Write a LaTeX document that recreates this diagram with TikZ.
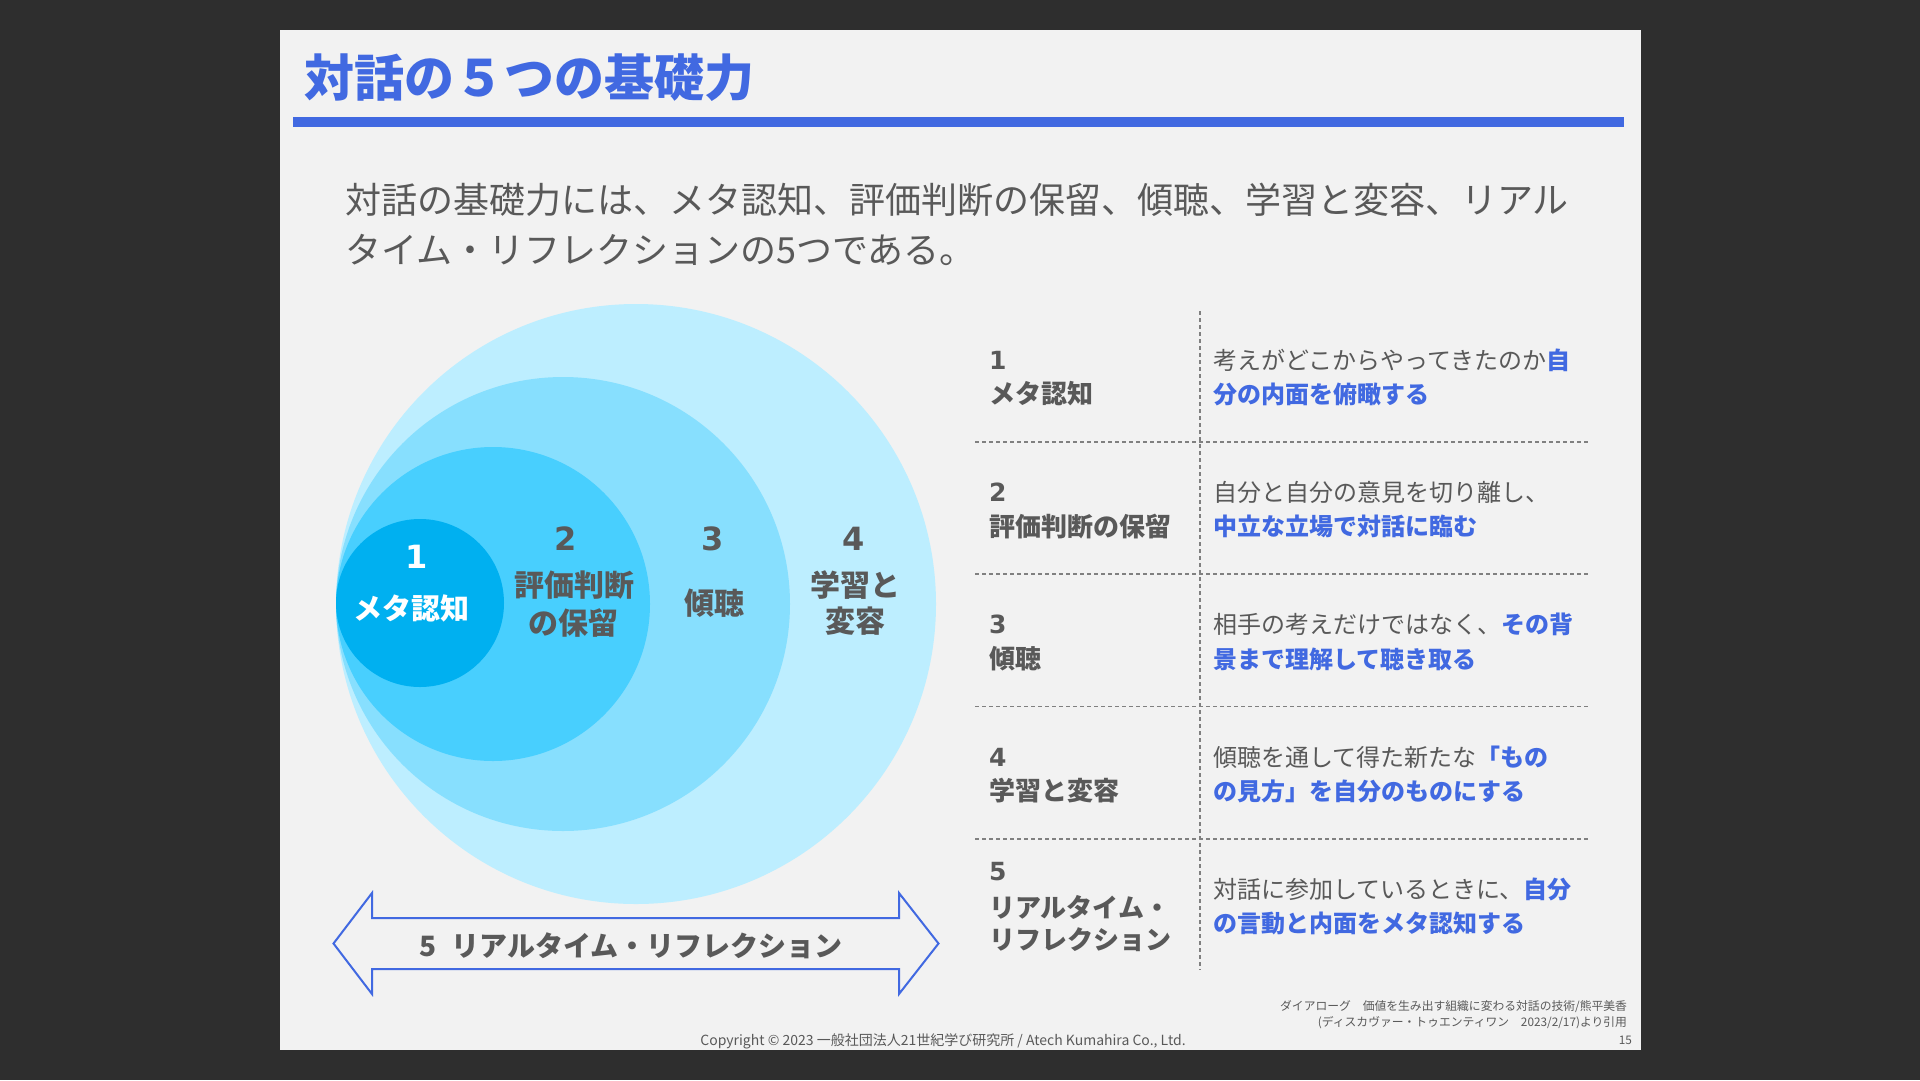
\documentclass[tikz,border=0pt]{standalone}
\usepackage{fontspec}
\setmainfont{Noto Sans CJK JP}
\newfontfamily\numfont{DejaVu Sans}
\definecolor{bgdark}{RGB}{46,46,46}
\definecolor{slide}{RGB}{242,242,242}
\definecolor{accent}{RGB}{65,105,225}
\definecolor{txtgrey}{RGB}{89,89,89}
\definecolor{sepgrey}{RGB}{128,128,128}
\definecolor{cfour}{RGB}{189,238,255}
\definecolor{cthree}{RGB}{135,223,254}
\definecolor{ctwo}{RGB}{72,207,254}
\definecolor{cone}{RGB}{0,176,240}
\newcommand\hl[1]{{\bfseries\color{accent}#1}}
\begin{document}
\begin{tikzpicture}[x=1pt,y=-1pt,
  every node/.style={inner sep=0pt,outer sep=0pt},
  circlab/.style={font=\fontsize{30}{36}\selectfont\bfseries,text=txtgrey,anchor=center},
  circnum/.style={font=\numfont\bfseries\fontsize{32}{36}\selectfont,text=txtgrey,anchor=center},
  rownum/.style={font=\numfont\bfseries\fontsize{25}{30}\selectfont,text=txtgrey,anchor=west},
  rowlab/.style={font=\fontsize{26}{34}\selectfont\bfseries,text=txtgrey,anchor=west},
  desc/.style={font=\fontsize{24}{34}\selectfont,text=txtgrey,anchor=west},
  sepline/.style={draw=sepgrey,line width=1.3pt,dash pattern=on 4pt off 3pt},
  foot/.style={font=\fontsize{11.8}{14}\selectfont,text=txtgrey,anchor=east}]
\useasboundingbox (0,0) rectangle (1920,1080);
\fill[bgdark] (0,0) rectangle (1920,1080);
\fill[slide] (280,30) rectangle (1641,1050);
% title
\node[font=\fontsize{50}{56}\selectfont\bfseries,text=accent,anchor=west] (title) at (304,78) {対話の５つの基礎力};
\fill[accent] (293,117) rectangle (1624,127);
% subtitle
\node[font=\fontsize{36}{50}\selectfont,text=txtgrey,anchor=west] (sub1) at (345,200) {対話の基礎力には、メタ認知、評価判断の保留、傾聴、学習と変容、リアル};
\node[font=\fontsize{36}{50}\selectfont,text=txtgrey,anchor=west] (sub2) at (345,250) {タイム・リフレクションの5つである。};
% circles
\fill[cfour] (636,604) circle[radius=300pt];
\fill[cthree] (563,604) circle[radius=227pt];
\fill[ctwo] (493,604) circle[radius=157pt];
\fill[cone] (420,603) circle[radius=84pt];
\node[circnum,text=white] (n1) at (417,557) {1};
\node[circlab,text=white,font=\fontsize{29}{36}\selectfont\bfseries] (l1) at (411,608) {メタ認知};
\node[circnum] (n2) at (566,539) {2};
\node[circlab] (l2a) at (574,585) {評価判断};
\node[circlab] (l2b) at (573,623) {の保留};
\node[circnum] (n3) at (713,539) {3};
\node[circlab] (l3) at (714,603) {傾聴};
\node[circnum] (n4) at (854,539) {4};
\node[circlab] (l4a) at (855,585) {学習と};
\node[circlab] (l4b) at (855,621) {変容};
% double arrow
\draw[accent,line width=2pt,fill=slide,line join=miter]
  (333.5,943.5) -- (372,893) -- (372,918) -- (899,918) -- (899,893) -- (938.5,943.5)
  -- (899,994) -- (899,969) -- (372,969) -- (372,994) -- cycle;
\node[font=\fontsize{28}{34}\selectfont\bfseries,text=txtgrey] (arrowlab) at (631,946) {5\hspace{0.55em}リアルタイム・リフレクション};
% table lines
\coordinate (vt) at (1200,311); \coordinate (vb) at (1200,970);
\draw[sepline] (vt) -- (vb);
\foreach \yy [count=\i] in {442,574,706.5,839}{
  \coordinate (hl\i) at (975,\yy); \coordinate (hr\i) at (1589,\yy);
  \draw[sepline] (hl\i) -- (hr\i);
}
% row 1
\node[rownum] (r1n) at (989,360) {1};
\node[rowlab] (r1l) at (989,394) {メタ認知};
\node[desc] (r1a) at (1213,360) {考えがどこからやってきたのか\hl{自}};
\node[desc] (r1b) at (1213,394) {\hl{分の内面を俯瞰する}};
% row 2
\node[rownum] (r2n) at (989,492) {2};
\node[rowlab] (r2l) at (989,526.5) {評価判断の保留};
\node[desc] (r2a) at (1213,492) {自分と自分の意見を切り離し、};
\node[desc] (r2b) at (1213,526.5) {\hl{中立な立場で対話に臨む}};
% row 3
\node[rownum] (r3n) at (989,624.5) {3};
\node[rowlab] (r3l) at (989,659) {傾聴};
\node[desc] (r3a) at (1213,624.5) {相手の考えだけではなく、\hl{その背}};
\node[desc] (r3b) at (1213,659) {\hl{景まで理解して聴き取る}};
% row 4
\node[rownum] (r4n) at (989,757) {4};
\node[rowlab] (r4l) at (989,791) {学習と変容};
\node[desc] (r4a) at (1213,757) {傾聴を通して得た新たな\hl{「もの}};
\node[desc] (r4b) at (1213,791) {\hl{の見方」を自分のものにする}};
% row 5
\node[rownum] (r5n) at (989,872) {5};
\node[rowlab] (r5l) at (989,907) {リアルタイム・};
\node[rowlab] (r5m) at (989,940) {リフレクション};
\node[desc] (r5a) at (1213,889) {対話に参加しているときに、\hl{自分}};
\node[desc] (r5b) at (1213,923) {\hl{の言動と内面をメタ認知する}};
% footer
\node[foot] (src1) at (1627,1007) {ダイアローグ　価値を生み出す組織に変わる対話の技術/熊平美香};
\node[foot] (src2) at (1627,1023) {(ディスカヴァー・トゥエンティワン　2023/2/17)より引用};
\node[foot] (page) at (1632,1040) {15};
\node[font=\fontsize{14}{16}\selectfont,text=txtgrey] (copy) at (943,1041) {Copyright © 2023 一般社団法人21世紀学び研究所 / Atech Kumahira Co., Ltd.};
\end{tikzpicture}
\end{document}
